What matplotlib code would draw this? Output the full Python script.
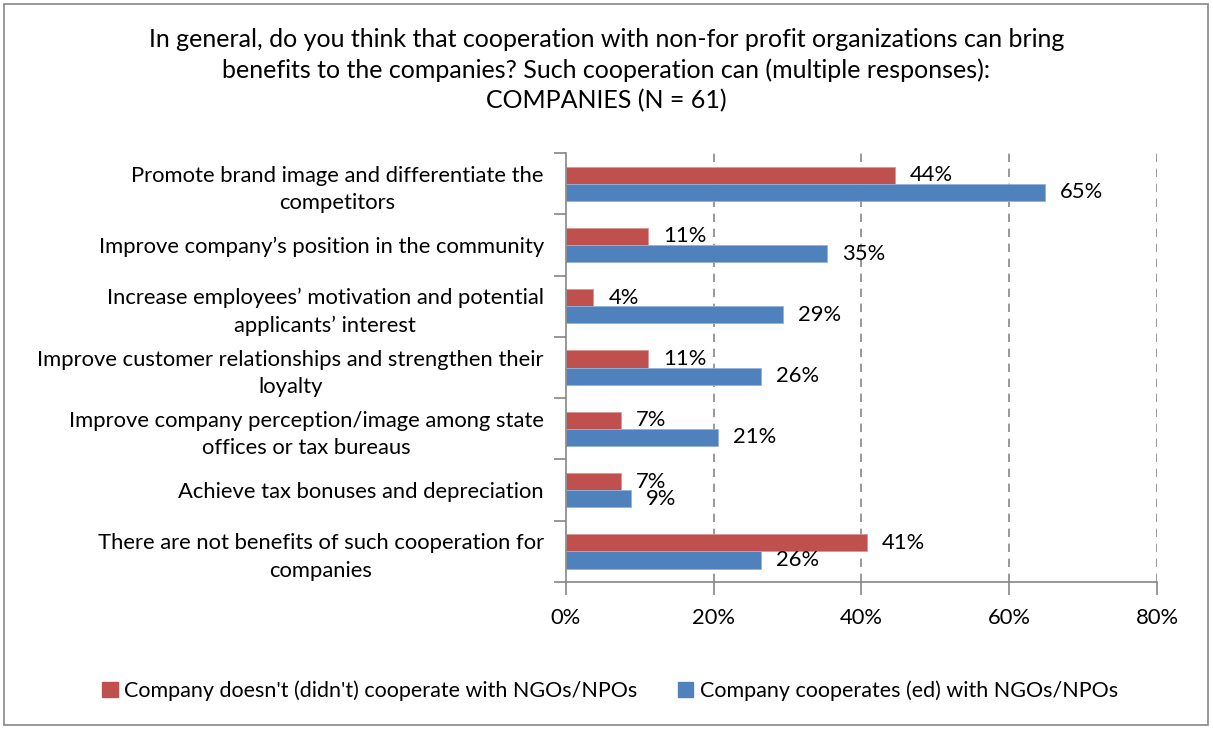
import matplotlib
matplotlib.use("Agg")
import matplotlib.pyplot as plt
from matplotlib.patches import Rectangle
from matplotlib.transforms import offset_copy

plt.rcParams['font.family'] = ['Lato', 'DejaVu Sans']

categories = [
    "Promote brand image and differentiate the\ncompetitors",
    "Improve company\u2019s position in the community",
    "Increase employees\u2019 motivation and potential\napplicants\u2019 interest",
    "Improve customer relationships and strengthen their\nloyalty",
    "Improve company perception/image among state\noffices or tax bureaus",
    "Achieve tax bonuses and depreciation",
    "There are not benefits of such cooperation for\ncompanies",
]
not_cooperating = [44.5, 11.1, 3.7, 11.1, 7.4, 7.4, 40.7]
cooperating = [64.8, 35.3, 29.4, 26.4, 20.6, 8.8, 26.4]
not_labels = ["44%", "11%", "4%", "11%", "7%", "7%", "41%"]
coop_labels = ["65%", "35%", "29%", "26%", "21%", "9%", "26%"]
series_names = ["Company doesn't (didn't) cooperate with NGOs/NPOs",
                "Company cooperates (ed) with NGOs/NPOs"]
xticks = [0, 20, 40, 60, 80]
xtick_labels = ["0%", "20%", "40%", "60%", "80%"]

RED = "#c0504d"
BLUE = "#4f81bd"
FS = 15.8

fig = plt.figure(figsize=(12.13, 7.29), dpi=100)
fig.patches.append(Rectangle((0.003, 0.005), 0.993, 0.99, transform=fig.transFigure,
                             fill=False, edgecolor="#868686", linewidth=1.2))

ax = fig.add_axes([0.4666, 0.2016, 0.4872, 0.5885])
h = 0.28
ys = list(range(len(categories)))
ax.barh([y - h / 2 for y in ys], not_cooperating, height=h, color=RED,
        edgecolor="#d99694", linewidth=0.6)
ax.barh([y + h / 2 for y in ys], cooperating, height=h, color=BLUE,
        edgecolor="#95b3d7", linewidth=0.6)

ax.set_xlim(0, 80)
ax.set_ylim(len(categories) - 0.5, -0.5)
ax.set_xticks(xticks)
ax.set_xticklabels(xtick_labels, fontsize=FS)
ax.set_yticks([y - 0.5 for y in ys] + [len(categories) - 0.5])
ax.set_yticklabels([])
ax.set_yticks(ys, minor=True)
ax.set_yticklabels(categories, minor=True, fontsize=FS, ha="right",
                   multialignment="center", linespacing=1.45)
ax.tick_params(axis="y", which="minor", length=0, pad=16)
ax.tick_params(axis="y", which="major", length=9, color="#868686", width=1.2)
ax.tick_params(axis="x", length=9, color="#868686", width=1.2, pad=10)

for s in ["top", "right"]:
    ax.spines[s].set_visible(False)
for s in ["left", "bottom"]:
    ax.spines[s].set_color("#868686")
    ax.spines[s].set_linewidth(1.2)

for x in xticks[1:]:
    ax.axvline(x, color="#868686", linestyle=(0, (5, 4)), linewidth=1.2, zorder=0)

lab_tr = offset_copy(ax.transData, fig=fig, x=15, y=0, units="dots")
for y, v, t in zip(ys, not_cooperating, not_labels):
    ax.text(v, y - h / 2, t, transform=lab_tr, fontsize=FS, va="center", ha="left")
for y, v, t in zip(ys, cooperating, coop_labels):
    ax.text(v, y + h / 2, t, transform=lab_tr, fontsize=FS, va="center", ha="left")

fig.text(0.5, 0.904, "In general, do you think that cooperation with non-for profit organizations can bring\n"
         "benefits to the companies? Such cooperation can (multiple responses):\nCOMPANIES (N = 61)",
         ha="center", va="center", fontsize=18, linespacing=1.38)

handles = [Rectangle((0, 0), 1, 1, color=RED), Rectangle((0, 0), 1, 1, color=BLUE)]
fig.legend(handles, series_names, loc="center", bbox_to_anchor=(0.503, 0.053), ncol=2,
           frameon=False, fontsize=15.5, handlelength=0.7, handleheight=0.7,
           handletextpad=0.3, columnspacing=1.9)

fig.savefig("out.png", dpi=100)
